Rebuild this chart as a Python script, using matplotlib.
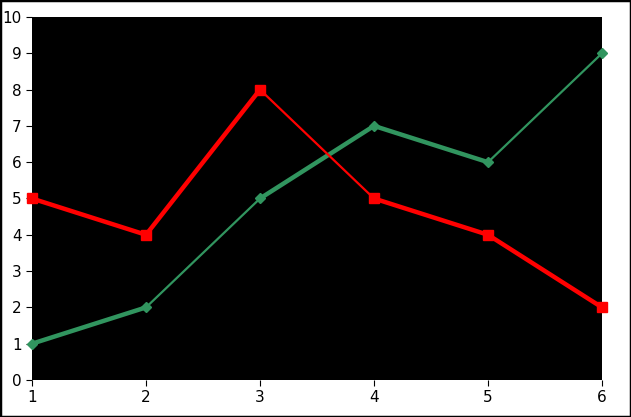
import matplotlib
matplotlib.use("Agg")
import matplotlib.pyplot as plt
from matplotlib.patches import Rectangle

x_vals = [1, 2, 3, 4, 5, 6]
red_vals = [5, 4, 8, 5, 4, 2]
green_vals = [1, 2, 5, 7, 6, 9]
# segment line widths (thick / thin alternate per segment)
red_widths = [3.2, 3.2, 1.6, 3.2, 3.2]
green_widths = [3.2, 1.6, 3.2, 3.2, 1.6]


def draw_series(ax, xs, ys, widths, color, marker, msize, z):
    for i in range(len(xs) - 1):
        ax.plot(xs[i:i + 2], ys[i:i + 2], color=color, lw=widths[i],
                solid_capstyle="butt", zorder=z)
    ax.plot(xs, ys, ls="none", marker=marker, color=color,
            markersize=msize, zorder=z + 1, clip_on=False)


fig = plt.figure(figsize=(6.31, 4.17), dpi=100)
ax = fig.add_axes([32 / 631, 37 / 417, 570 / 631, 363 / 417])
ax.set_facecolor("black")

draw_series(ax, x_vals, green_vals, green_widths, "#31955f", "D", 5.5, 2)
draw_series(ax, x_vals, red_vals, red_widths, "#ff0000", "s", 7.5, 4)

ax.set_xlim(1, 6)
ax.set_ylim(0, 10)
ax.set_xticks(x_vals)
ax.set_yticks(range(0, 11))
ax.tick_params(direction="out", length=4, labelsize=11, colors="black",
               top=False, right=False)
for s in ax.spines.values():
    s.set_visible(False)

fig.patches.append(Rectangle((0, 0), 1, 1, transform=fig.transFigure,
                             fill=False, edgecolor="black", lw=2.5))

fig.savefig("out.png", dpi=100)
